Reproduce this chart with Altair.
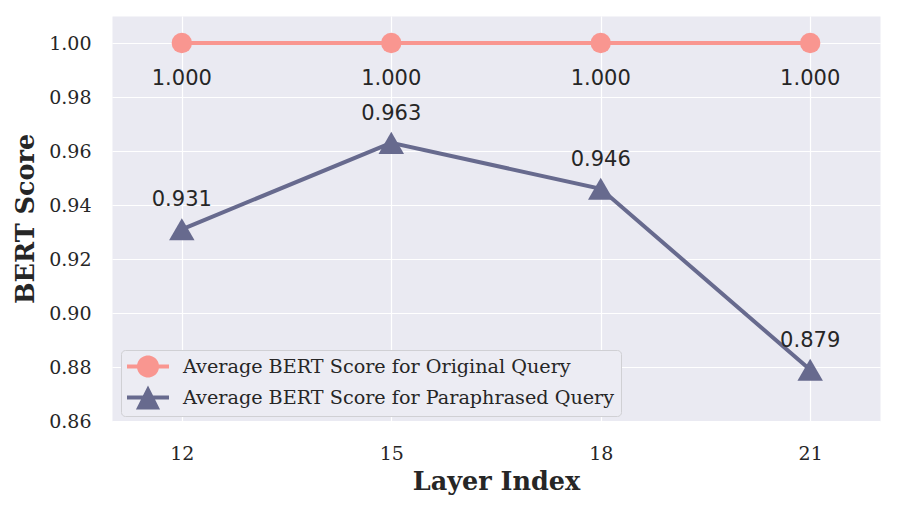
import math
import altair as alt
import pandas as pd

# ---- data ----
layers = [12, 15, 18, 21]
original_scores = [1.000, 1.000, 1.000, 1.000]
paraphrased_scores = [0.931, 0.963, 0.946, 0.879]
series_names = [
    "Average BERT Score for Original Query",
    "Average BERT Score for Paraphrased Query",
]
x_ticks = [12, 15, 18, 21]
y_ticks = [0.86, 0.88, 0.90, 0.92, 0.94, 0.96, 0.98, 1.00]

rows = []
for name, vals in zip(series_names, [original_scores, paraphrased_scores]):
    for lx, v in zip(layers, vals):
        rows.append({"series": name, "layer": lx, "score": v, "label": f"{v:.3f}"})
df = pd.DataFrame(rows)

# ---- styles ----
SALMON = "#F99690"
SLATE = "#676A8E"
TEXT = "#262626"


def fmt(v):
    return f"{v:.4f}".rstrip("0").rstrip(".")


def circle_line_path(r=1.05, cx=1.0, half=0.19, left=-1.0, right=3.0, n=20):
    a0 = math.asin(half / r)
    pts = [(left, -half)]
    for i in range(n + 1):
        a = (math.pi - a0) - (math.pi - 2 * a0) * i / n
        pts.append((cx + r * math.cos(a), -r * math.sin(a)))
    pts += [(right, -half), (right, half)]
    for i in range(n + 1):
        a = -a0 - (math.pi - 2 * a0) * i / n
        pts.append((cx + r * math.cos(a), -r * math.sin(a)))
    pts.append((left, half))
    return "M" + " L".join(f"{fmt(x)},{fmt(y)}" for x, y in pts) + " Z"


def tri_line_path(w=1.15, a=1.15, b=1.15, cx=1.0, half=0.19, left=-1.0, right=3.0):
    def xl(y):
        return (cx - w) + w * (b - y) / (b + a)

    def xr(y):
        return (cx + w) - w * (b - y) / (b + a)

    pts = [(left, -half), (xl(-half), -half), (cx, -a), (xr(-half), -half),
           (right, -half), (right, half), (xr(half), half), (cx + w, b),
           (cx - w, b), (xl(half), half), (left, half)]
    return "M" + " L".join(f"{fmt(x)},{fmt(y)}" for x, y in pts) + " Z"


color_scale = alt.Scale(domain=series_names, range=[SALMON, SLATE])

legend = alt.Legend(
    orient="none", legendX=9, legendY=334, title=None,
    symbolSize=441, symbolStrokeWidth=0, symbolOpacity=1,
    labelOffset=35, labelFont="DejaVu Serif", labelFontSize=19.2,
    labelColor=TEXT, labelLimit=700, padding=6, rowPadding=7,
    fillColor="#ECECF3", strokeColor="#D0D0D4", cornerRadius=4,
)

x_enc = alt.X(
    "layer:Q",
    scale=alt.Scale(domain=[11, 22], nice=False, zero=False),
    axis=alt.Axis(values=x_ticks, format="d", title="Layer Index",
                  labelPadding=23, titlePadding=6),
)
y_enc = alt.Y(
    "score:Q",
    scale=alt.Scale(domain=[0.86, 1.01], nice=False, zero=False),
    axis=alt.Axis(values=y_ticks, format=".2f", title="BERT Score",
                  labelPadding=21, titlePadding=10),
)
color_enc = alt.Color("series:N", scale=color_scale, legend=legend)

base = alt.Chart(df)

lines = base.mark_line(strokeWidth=4, opacity=1).encode(
    x=x_enc, y=y_enc, color=color_enc
)

pts_orig = base.transform_filter(
    alt.datum.series == series_names[0]
).mark_point(shape="circle", filled=True, size=415, opacity=1, strokeWidth=0).encode(
    x=x_enc, y=y_enc, color=color_enc
)

pts_para = base.transform_filter(
    alt.datum.series == series_names[1]
).mark_point(shape="triangle-up", filled=True, size=650, opacity=1, strokeWidth=0).encode(
    x=x_enc, y=y_enc, color=color_enc
)

txt_orig = base.transform_filter(
    alt.datum.series == series_names[0]
).mark_text(font="DejaVu Sans", fontSize=21, color=TEXT, baseline="middle", dy=36).encode(
    x=x_enc, y=y_enc, text="label:N"
)

txt_para = base.transform_filter(
    alt.datum.series == series_names[1]
).mark_text(font="DejaVu Sans", fontSize=21, color=TEXT, baseline="middle", dy=-29).encode(
    x=x_enc, y=y_enc, text="label:N"
)

legend_layer = base.transform_filter("false").mark_point(
    filled=True, size=441, opacity=1, strokeWidth=0
).encode(
    x=x_enc, y=y_enc, color=color_enc,
    shape=alt.Shape(
        "series:N",
        scale=alt.Scale(domain=series_names,
                        range=[circle_line_path(), tri_line_path()]),
        legend=legend,
    ),
)

chart = alt.layer(
    lines, pts_orig, pts_para, txt_orig, txt_para, legend_layer
).properties(
    width=768, height=405,
    autosize=alt.AutoSizeParams(type="none"),
    padding={"left": 104, "top": 8, "right": 9, "bottom": 76},
    background="white",
).configure_view(
    fill="#EAEAF2", stroke="transparent"
).configure_axis(
    labelFont="DejaVu Serif", labelFontSize=19, labelColor=TEXT,
    titleFont="DejaVu Serif", titleFontSize=25.5, titleFontWeight="bold",
    titleColor=TEXT, grid=True, gridColor="white", gridWidth=1.2,
    domain=False, ticks=False, tickSize=0,
)

chart.save("out.html", embed_options={"renderer": "svg", "actions": False})
